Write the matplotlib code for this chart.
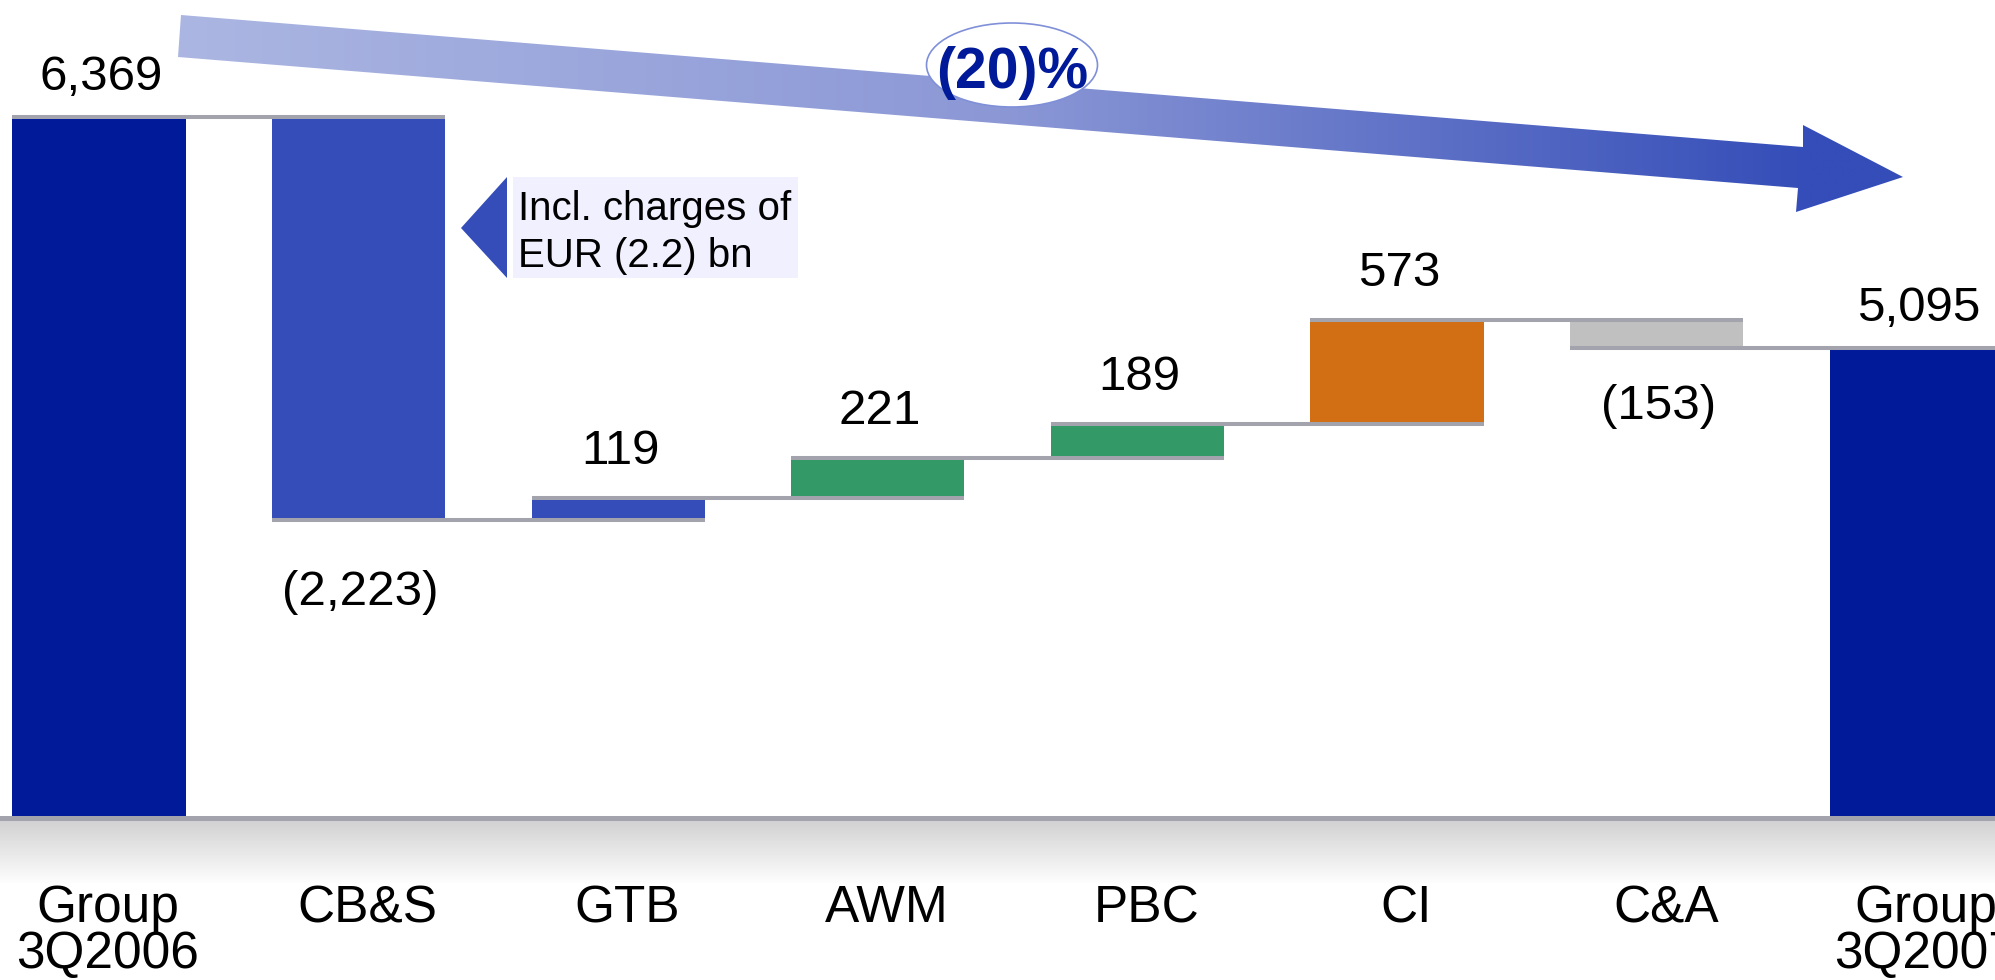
import numpy as np
import matplotlib
matplotlib.use('Agg')
import matplotlib.pyplot as plt
import matplotlib.transforms as mtransforms
from matplotlib.patches import Polygon, Ellipse, Rectangle
from matplotlib.colors import to_rgb

plt.rcParams['font.family'] = ['Liberation Sans', 'DejaVu Sans']

# ---------------- data ----------------
categories = ['Group\n3Q2006', 'CB&S', 'GTB', 'AWM', 'PBC', 'CI', 'C&A', 'Group\n3Q2007']
start_total = 6369
deltas = [-2223, 119, 221, 189, 573, -153]
end_total = 5095
value_labels = ['6,369', '(2,223)', '119', '221', '189', '573', '(153)', '5,095']
change_label = '(20)%'
note_text = ['Incl. charges of', 'EUR (2.2) bn']

# ---------------- style ----------------
NAVY = '#001A99'
BLUE = '#344DB8'
GREEN = '#339966'
ORANGE = '#D26F15'
LGRAY = '#C0C0C0'
LINE = '#A3A3AD'
bar_colors = [NAVY, BLUE, BLUE, GREEN, GREEN, ORANGE, LGRAY, NAVY]

W, H = 1995, 980
fig = plt.figure(figsize=(W / 100, H / 100), dpi=100)
fig.patch.set_facecolor('white')

ax = fig.add_axes([0, 0, 1, 1])
ax.set_xlim(-0.381, 7.303)
ax.set_ylim(1609, 7014)
ax.axis('off')

# overlay axes in pixel coordinates for decorations
ov = fig.add_axes([0, 0, 1, 1], zorder=5)
ov.set_facecolor('none')
ov.axis('off')

floor = 2503

# waterfall geometry
levels = [start_total]
for d in deltas:
    levels.append(levels[-1] + d)
bottoms = [floor]
heights = [start_total - floor]
for i, d in enumerate(deltas):
    bottoms.append(min(levels[i], levels[i + 1]))
    heights.append(abs(d))
bottoms.append(floor)
heights.append(end_total - floor)

x = np.arange(len(categories))
bw = 0.667
ax.bar(x, heights, bottom=bottoms, width=bw, color=bar_colors, linewidth=0, zorder=2)

# connector lines
ax.hlines(levels, x[:-1] - bw / 2, x[1:] + bw / 2, colors=LINE, lw=2.9, zorder=3)
# baseline
ax.axhline(floor, color=LINE, lw=3.6, zorder=3)

# value labels (baseline offsets in px)
tops = [b + h for b, h in zip(bottoms, heights)]
kinds = ['total'] + ['neg' if d < 0 else 'pos' for d in deltas] + ['total']
gap_px = {'total': 27, 'pos': 34, 'neg': -77}
neg_adjust = {1: -8, 6: 6}
for i, (xi, lab, b, t, k) in enumerate(zip(x, value_labels, bottoms, tops, kinds)):
    yref = b if k == 'neg' else t
    g = gap_px[k] + neg_adjust.get(i, 0)
    ax.annotate(lab, (xi, yref), xytext=(2 * 0.72, g * 0.72), textcoords='offset points',
                ha='center', va='baseline', fontsize=35.5, color='black', zorder=4)

# baseline gradient (grey to white)
grad = np.linspace(0, 1, 64)[:, None]
gcol = np.array(to_rgb('#D2D2D2'))
wcol = np.ones(3)
gimg = (gcol[None, None, :] * (1 - grad[:, :, None]) + wcol[None, None, :] * grad[:, :, None])
ov.imshow(gimg, extent=(0, W, 885, 821), aspect='auto', interpolation='bilinear', zorder=1)

# category labels
blend = mtransforms.blended_transform_factory(ax.transData, ov.transData)
blend = mtransforms.offset_copy(blend, fig=fig, x=9, y=0, units='dots')
for xi, cat in zip(x, categories):
    for k, line in enumerate(cat.split('\n')):
        ov.text(xi, 922 + 46 * k, line, transform=blend, ha='center', va='baseline',
                fontsize=37, color='black', clip_on=False)

# big gradient arrow
arrow_pts = [(181, 15), (1803, 147), (1803, 125), (1903, 177), (1796, 212), (1798, 188), (178, 57)]
poly = Polygon(arrow_pts, closed=True, facecolor='none', edgecolor='none', zorder=2)
ov.add_patch(poly)
stops_x = [178, 1000, 1810, 1903]
stops_c = [to_rgb('#ABB6E2'), to_rgb('#8C98D6'), to_rgb('#344DB8'), to_rgb('#344DB8')]
xs = np.linspace(178, 1903, 400)
arr = np.zeros((1, len(xs), 3))
for c in range(3):
    arr[0, :, c] = np.interp(xs, stops_x, [s[c] for s in stops_c])
im = ov.imshow(arr, extent=(178, 1903, 212, 15), aspect='auto', interpolation='bilinear', zorder=2)
im.set_clip_path(poly)

# (20)% ellipse
ov.add_patch(Ellipse((1012, 65), 171, 84, facecolor='white', edgecolor='#8090D8', lw=1.2, zorder=3))
ov.text(1012, 88, change_label, ha='center', va='baseline', fontsize=41, fontweight='bold',
        color=NAVY, zorder=4)

# note callout
ov.add_patch(Rectangle((513, 177), 285, 101, facecolor='#F0F0FF', edgecolor='none', zorder=3))
ov.add_patch(Polygon([(461, 228), (507, 177), (507, 278)], closed=True, facecolor=BLUE,
                     edgecolor='none', zorder=3))
for k, line in enumerate(note_text):
    ov.text(518, 220 + 47 * k, line, ha='left', va='baseline', fontsize=29, color='black', zorder=4)

ov.set_xlim(0, W)
ov.set_ylim(H, 0)

fig.savefig('out.png', dpi=100, facecolor='white')
